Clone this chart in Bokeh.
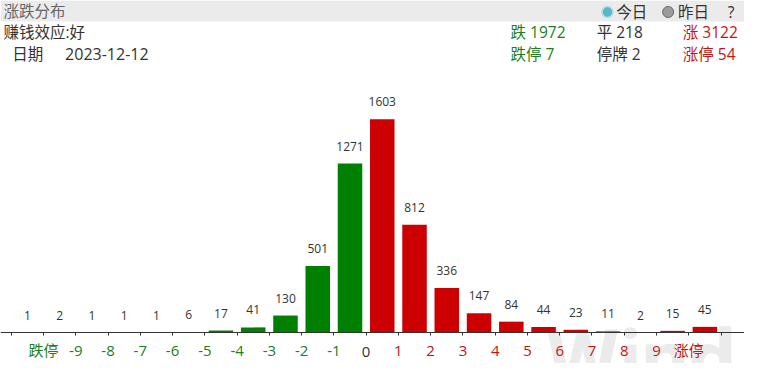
from bokeh.plotting import figure
from bokeh.models import (ColumnDataSource, LinearAxis, FixedTicker, LabelSet, Label,
                          BoxAnnotation, Range1d)
from bokeh.embed import file_html
from bokeh.resources import INLINE
from bokeh.core.properties import value

# ---------------- data ----------------
tick_labels = ["跌停", "-9", "-8", "-7", "-6", "-5", "-4", "-3", "-2", "-1", "0",
               "1", "2", "3", "4", "5", "6", "7", "8", "9", "涨停"]
counts = [1, 2, 1, 1, 1, 6, 17, 41, 130, 501, 1271,
          1603, 812, 336, 147, 84, 44, 23, 11, 2, 15, 45]
n_down_bins = 11           # first 11 bins are falling (green)
title = "涨跌分布"
effect_text = "赚钱效应:好"
date_text = "2023-12-12"
stat_down, stat_flat, stat_up = 1972, 218, 3122
stat_limit_down, stat_suspended, stat_limit_up = 7, 2, 54
legend_items = ["今日", "昨日"]

# ---------------- colours / fonts ----------------
GREEN_BAR, RED_BAR = "#008000", "#cc0000"
GREEN_TXT, RED_TXT, DARK_TXT = "#1a801a", "#c41414", "#333333"
FONT_S = "Open Sans, Noto Sans CJK SC"
FONT = value(FONT_S)

# ---------------- layout (reference pixels -> canvas) ----------------
W, H = 744, 363
FX, FY = W / 760, H / 379
def px(x): return x * FX
def py(y): return y * FY

AX_L, AX_R, BASE, TOP_MAX = 11, 736, 347, 124
nb = len(counts)
sx = (px(AX_R) - px(AX_L)) / nb
x_start = -px(AX_L) / sx
x_end = x_start + W / sx
sy = (py(BASE) - py(TOP_MAX)) / max(counts)
y_end = py(BASE) / sy
y_start = y_end - H / sy
def DX(x): return x_start + px(x) / sx
def DY(y): return y_end - py(y) / sy

p = figure(width=W, height=H, x_range=Range1d(x_start, x_end), y_range=Range1d(y_start, y_end),
           output_backend="svg", toolbar_location=None, min_border=0,
           x_axis_type=None, y_axis_type=None, outline_line_color=None,
           background_fill_color="white", border_fill_color="white")

# header band (underneath everything)
p.add_layout(BoxAnnotation(bottom=DY(22), fill_color="#ebebeb", fill_alpha=1.0,
                           line_color=None, level="underlay"))

# watermark
p.add_layout(Label(x=DX(557), y=DY(376), text="Wind", text_font="Roboto",
                   text_font_style="bold", text_font_size="84px", text_color="#ebebeb",
                   text_baseline="alphabetic", text_align="left", level="underlay"))

# bars
centers = [i + 0.5 for i in range(nb)]
colors = [GREEN_BAR if i < n_down_bins else RED_BAR for i in range(nb)]
src = ColumnDataSource(dict(x=centers, top=counts, color=colors, label=[str(c) for c in counts]))
p.vbar(x="x", top="top", width=0.76, bottom=0, color="color", source=src, line_color=None)
p.add_layout(LabelSet(x="x", y="top", text="label", source=src, y_offset=13,
                      text_align="center", text_baseline="alphabetic",
                      text_font=FONT, text_font_size=value("12px"), text_color=DARK_TXT))

# axis line and ticks
base_axis = LinearAxis(fixed_location=0, ticker=FixedTicker(ticks=list(range(nb + 1))),
                       axis_line_color="#333333", axis_line_width=1,
                       major_tick_line_color="#333333", major_tick_out=3, major_tick_in=0,
                       minor_tick_line_color=None, major_label_text_color=None)
p.add_layout(base_axis, "below")

def label_axis(idxs, color, standoff):
    ticks = [i + 1 for i in idxs]
    ax = LinearAxis(fixed_location=0, ticker=FixedTicker(ticks=ticks),
                    major_label_overrides={i + 1: tick_labels[i] for i in idxs},
                    axis_line_color=None, major_tick_line_color=None, minor_tick_line_color=None,
                    major_tick_out=0, major_tick_in=0, major_label_standoff=standoff,
                    major_label_text_color=color, major_label_text_font=FONT_S,
                    major_label_text_font_size="15px")
    p.add_layout(ax, "below")

mid = tick_labels.index("0")
label_axis(list(range(0, mid)), GREEN_TXT, 7)
label_axis([mid], DARK_TXT, 14)
label_axis(list(range(mid + 1, len(tick_labels))), RED_TXT, 7)

def txt(s, xr, yr, color=DARK_TXT, size="15.5px"):
    p.add_layout(Label(x=DX(xr), y=DY(yr), text=s, text_font=FONT_S, text_font_size=size,
                       text_color=color, text_align="left", text_baseline="middle"))

txt(title, 3, 11, "#666666")
p.scatter(x=[DX(620)], y=[DY(12)], size=11, marker="circle", fill_color="#55b8c9",
          line_color="#b4dde5", line_width=1.5)
p.scatter(x=[DX(682)], y=[DY(12)], size=11, marker="circle", fill_color="#9c9c9c",
          line_color="#6a6a6a", line_width=1)
txt(legend_items[0], 629, 12)
txt(legend_items[1], 692, 12)
txt("?", 743, 12)

txt(effect_text, 3, 33)
txt(f"跌 {stat_down}", 521, 33, GREEN_TXT)
txt(f"平 {stat_flat}", 609, 33)
txt(f"涨 {stat_up}", 697, 33, RED_TXT)

txt("日期", 12, 56)
txt(date_text, 66, 56, size="16px")
txt(f"跌停 {stat_limit_down}", 521, 56, GREEN_TXT)
txt(f"停牌 {stat_suspended}", 609, 56)
txt(f"涨停 {stat_limit_up}", 697, 56, RED_TXT)

open("out.html", "w").write(file_html(p, INLINE))
